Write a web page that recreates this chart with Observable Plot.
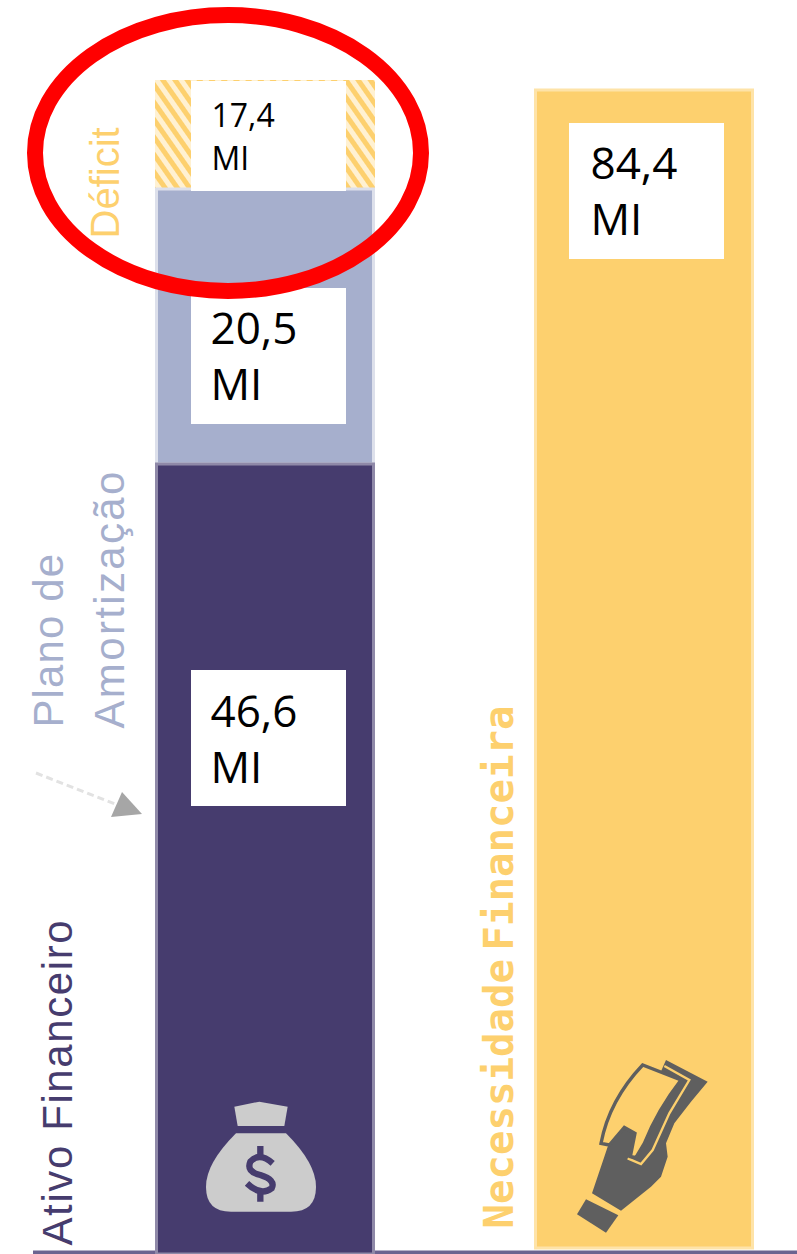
<!DOCTYPE html>
<html><head><meta charset="utf-8">
<script src="https://cdn.jsdelivr.net/npm/d3@7"></script>
<script src="https://cdn.jsdelivr.net/npm/@observablehq/plot@0.6"></script>
<style>
html,body{margin:0;padding:0;background:#fff}
svg{display:block}
.sp16 text{letter-spacing:1.6px}
.sp24 text{letter-spacing:2.35px}
.sp10 text{letter-spacing:1.1px}
.ws text{word-spacing:-16px}
</style></head><body>
<div id="chart"></div>
<script>
const barNames = ["Ativo Financeiro", "Necessidade Financeira"];
const segmentNames = ["Ativo Financeiro", "Plano de Amortização", "Déficit"];
const segmentValues = [46.6, 20.5, 17.4];
const needValue = 84.4;
const valueLabels = ["46,6\nMI", "20,5\nMI", "17,4\nMI", "84,4\nMI"];
const sideLabels = ["Ativo Financeiro", "Plano de", "Amortização", "Déficit", "Necessidade Financeira"];

const ends = d3.cumsum(segmentValues);
// The original's bars are not to one scale: each segment edge gets its own height.
const warp = d3.scaleLinear().domain([0, ends[0], ends[1], needValue, ends[2]]).range([0, 790, 1064, 1164, 1174]);
const seg = segmentNames.map((name, i) => ({bar: barNames[0], name, y1: warp(i ? ends[i - 1] : 0), y2: warp(ends[i]), label: valueLabels[i]}));
const need = [{bar: barNames[1], name: barNames[1], y1: warp(0), y2: warp(needValue), label: valueLabels[3]}];
const PURPLE = "#463C6E", BLUE = "#A6AFCD", YELLOW = "#FDD06E";

function defsMark() {
  const g = d3.create("svg:g");
  const p = g.append("defs").append("pattern").attr("id", "hatch").attr("width", 10).attr("height", 10)
    .attr("patternUnits", "userSpaceOnUse").attr("patternTransform", "rotate(55)");
  p.append("rect").attr("width", 10).attr("height", 10).attr("fill", "#FFF1D2");
  p.append("rect").attr("width", 10).attr("height", 5).attr("fill", YELLOW);
  return g.node();
}
function arrowMark(_, {x, y}) {
  const g = d3.create("svg:g").attr("transform", `translate(${x(barNames[0])},${y(warp(ends[0]))})`);
  g.append("path").attr("d", "M-119,309L-40,340").attr("stroke", "#E2E2E2").attr("stroke-width", 3).attr("stroke-dasharray", "7 4").attr("fill", "none");
  g.append("path").attr("d", "M-33,328L-13,350L-44,353Z").attr("fill", "#A6A6A6");
  return g.node();
}
function bagMark(_, {x, y}) {
  const g = d3.create("svg:g").attr("transform", `translate(${x(barNames[0])},${y(0) - 354}) scale(${1 / 3}) translate(-462,0)`);
  g.append("path").attr("d", "M700,620L775,605L860,620L850,678L710,678Z").attr("fill", "#CCC");
  g.append("path").attr("d", "M705,700L855,700Q945,790 945,860Q945,935 870,935L690,935Q615,935 615,860Q615,790 705,700Z").attr("fill", "#CCC");
  g.append("path").attr("d", "M815,790Q775,755 748,785Q735,815 778,825Q825,840 812,865Q780,890 738,850M778,738V765M778,880V905")
    .attr("fill", "none").attr("stroke", PURPLE).attr("stroke-width", 19);
  return g.node();
}
function handMark(_, {x, y}) {
  const g = d3.create("svg:g").attr("transform", `translate(${x(barNames[1])},${y(0) - 224}) scale(${1 / 3}) translate(-219,0)`);
  const dark = "#5F5F5F";
  g.append("path").attr("d", "M375,508L472,556L435,608L348,553Z").attr("fill", dark);
  g.append("path").attr("d", "M393,490L430,380L440,350L490,295L520,305L615,90L740,155L690,215L640,280L615,340L620,380L600,440L570,470L480,542Z").attr("fill", dark);
  g.append("path").attr("d", "M610,108L685,150L625,250L575,360L540,402L500,385").attr("fill", "none").attr("stroke", YELLOW).attr("stroke-width", 7);
  g.append("path").attr("d", "M445,345L420,340Q445,210 545,105L660,150Q590,240 550,340L525,382L508,380L522,310L490,292Z")
    .attr("fill", YELLOW).attr("stroke", dark).attr("stroke-width", 10);
  return g.node();
}
function ringMark(_, {x, y}) {
  const g = d3.create("svg:g").attr("transform", `translate(${x(barNames[0])},${y(warp(ends[2]))})`);
  g.append("ellipse").attr("cx", 73).attr("cy", 73).attr("rx", 193).attr("ry", 138)
    .attr("fill", "none").attr("stroke", "#FF0000").attr("stroke-width", 16);
  return g.node();
}

const sideText = (text, color, dx, dy, cls, size = 42) => Plot.text([{bar: barNames[0], y: 0, text}], {
  x: "bar", y: "y", text: "text", rotate: -90, textAnchor: "start", fill: color, dx, dy,
  fontFamily: "Liberation Sans", fontSize: size, className: cls
});
const box = (data, o) => Plot.barY(data, {x: "bar", y1: "y1", y2: "y2", fill: "#fff", ...o});
const label = (data, o) => Plot.text(data, {x: "bar", y: "y2", text: "label", textAnchor: "start", lineAnchor: "top", fill: "#000",
  fontFamily: "Open Sans", fontSize: 44, lineHeight: 1.27, ...o});

const chart = Plot.plot({
  width: 797, height: 1254, marginLeft: 33, marginRight: 0, marginTop: 0, marginBottom: 0,
  style: {background: "#fff"},
  x: {axis: null, type: "band", domain: barNames, range: [154, 754], paddingInner: 0.42, paddingOuter: 0},
  y: {axis: null, domain: [0, 1174], range: [1254, 80]},
  marks: [
    defsMark,
    Plot.ruleY([0], {stroke: "#6B6390", strokeWidth: 4, dy: -2}),
    Plot.barY([seg[2]], {x: "bar", y1: "y1", y2: "y2", fill: "url(#hatch)"}),
    Plot.barY([seg[1]], {x: "bar", y1: "y1", y2: "y2", fill: BLUE, stroke: "#DDE0EB", strokeWidth: 3, insetLeft: 1.5, insetRight: 1.5, insetTop: -1}),
    Plot.barY([seg[0]], {x: "bar", y1: "y1", y2: "y2", fill: PURPLE, stroke: "#8F89A8", strokeWidth: 3, insetLeft: 1.5, insetRight: 1.5}),
    Plot.barY(need, {x: "bar", y1: "y1", y2: "y2", fill: YELLOW, stroke: "#FEE3A8", strokeWidth: 3, insetLeft: 1.5, insetRight: 1.5, insetBottom: 6}),
    box([seg[2]], {insetLeft: 36, insetRight: 29, insetBottom: -1, insetTop: 1}),
    box([seg[1]], {insetLeft: 36, insetRight: 29, insetTop: 98, insetBottom: 40}),
    box([seg[0]], {insetLeft: 36, insetRight: 29, insetTop: 206, insetBottom: 448}),
    box(need, {insetLeft: 35, insetRight: 30, insetTop: 33, insetBottom: 995}),
    label([seg[2]], {dx: -54, dy: 16, fontSize: 32, lineHeight: 1.34}),
    label([seg[1]], {dx: -55, dy: 114}),
    label([seg[0]], {dx: -55, dy: 223}),
    label(need, {dx: -54, dy: 49}),
    sideText(sideLabels[0], PURPLE, -207, -9, "sp16"),
    sideText(sideLabels[1], BLUE, -216, -527, "sp10"),
    sideText(sideLabels[2], BLUE, -155, -526, "sp24"),
    sideText(sideLabels[3], YELLOW, -159, -1016, "sp0", 40),
    Plot.text([{bar: barNames[1], y: 0, text: sideLabels[4]}], {x: "bar", y: "y", text: "text", rotate: -90, textAnchor: "start", fill: YELLOW, dx: -145, dy: -26,
      fontFamily: "DejaVu Sans Mono", fontWeight: "bold", fontSize: 40.7, className: "ws"}),
    arrowMark, bagMark, handMark, ringMark
  ]
});
document.getElementById("chart").append(chart);
</script>
</body></html>
